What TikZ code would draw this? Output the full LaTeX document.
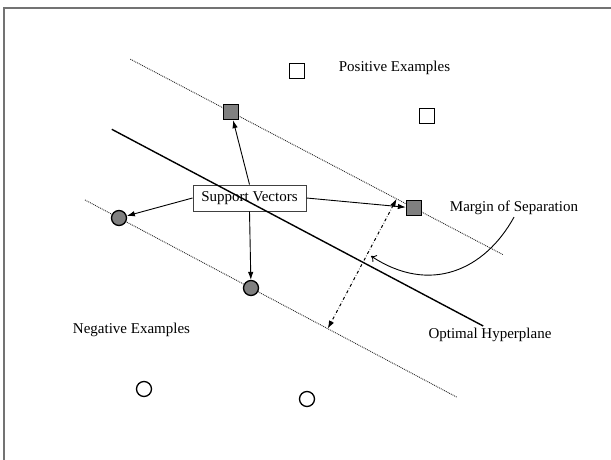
\documentclass[tikz,border=0pt]{standalone}
\usepackage{fontspec}
\setmainfont{Liberation Serif}
\usetikzlibrary{arrows.meta,calc,backgrounds}

\begin{document}
\begin{tikzpicture}[x=1pt,y=-1pt,
    lbl/.style={font=\fontsize{15}{18}\selectfont, inner sep=1pt},
    possq/.style={draw, line width=1.3pt, fill=white, minimum size=15pt, inner sep=0pt},
    svsq/.style={possq, fill=gray},
    negcirc/.style={draw, circle, line width=1.3pt, fill=white, minimum size=15pt, inner sep=0pt},
    svcirc/.style={negcirc, fill=gray},
    ptr/.style={-{Latex[length=8pt,width=5.5pt]}, line width=0.9pt},
    bound/.style={densely dotted, line width=0.9pt, black!85}]
            \useasboundingbox (0,0) rectangle (611,460);
            \draw[line width=1.5pt, black!55] (4,460) -- (4,8) -- (611,8);

            \node[possq] (p1) at (297,71) {};
            \node[possq] (p2) at (427,116) {};
            \node[svsq] (sv1) at (231,112) {};
            \node[svsq] (sv2) at (414,208) {};
            \node[svcirc] (sv3) at (119,218) {};
            \node[svcirc] (sv4) at (251,288) {};
            \node[negcirc] (n1) at (144,389) {};
            \node[negcirc] (n2) at (307,399) {};

            \node[lbl] (pos) at (394.5,68) {Positive Examples};
            \node[lbl] (neg) at (131.5,330) {Negative Examples};
            \node[lbl] (opt) at (490,335) {Optimal Hyperplane};
            \node[lbl, inner sep=2pt] (mos) at (514,208) {Margin of Separation};
            \node[lbl, draw=black!75, line width=1pt, minimum width=113pt, minimum height=26pt] (sv) at (249.5,198) {Support Vectors};

            \coordinate (h1) at (111.8,129.3);
            \coordinate (h2) at (483.2,326);
            \coordinate (m1) at ($(sv1.center)!0.905!(sv2.center)$);
            \coordinate (m2) at ($(sv3.center)!(m1)!(sv4.center)$);
            \coordinate (mp) at (371,256);

            \begin{scope}[on background layer]
                \draw[bound] ($(sv1.center)!-0.55!(sv2.center)$) -- ($(sv1.center)!1.485!(sv2.center)$);
                \draw[bound] ($(sv3.center)!-0.258!(sv4.center)$) -- ($(sv3.center)!2.558!(sv4.center)$);
            \end{scope}
            \draw[line width=1.4pt] (h1) -- (h2);

            \draw[ptr] (sv.west) -- (sv3);
            \draw[ptr] (sv.north) -- (sv1);
            \draw[ptr] (sv.south) -- (sv4);
            \draw[ptr] (sv.east) -- (sv2);
            \draw[{Latex[length=8pt,width=5.5pt]}-{Latex[length=8pt,width=5.5pt]}, dash dot, line width=1pt] (m1) -- (m2);
            \draw[-{To[length=5pt,width=8pt]}, line width=0.9pt] (mos.south) .. controls (485,270) and (430,295) .. (mp);
\end{tikzpicture}
\end{document}
